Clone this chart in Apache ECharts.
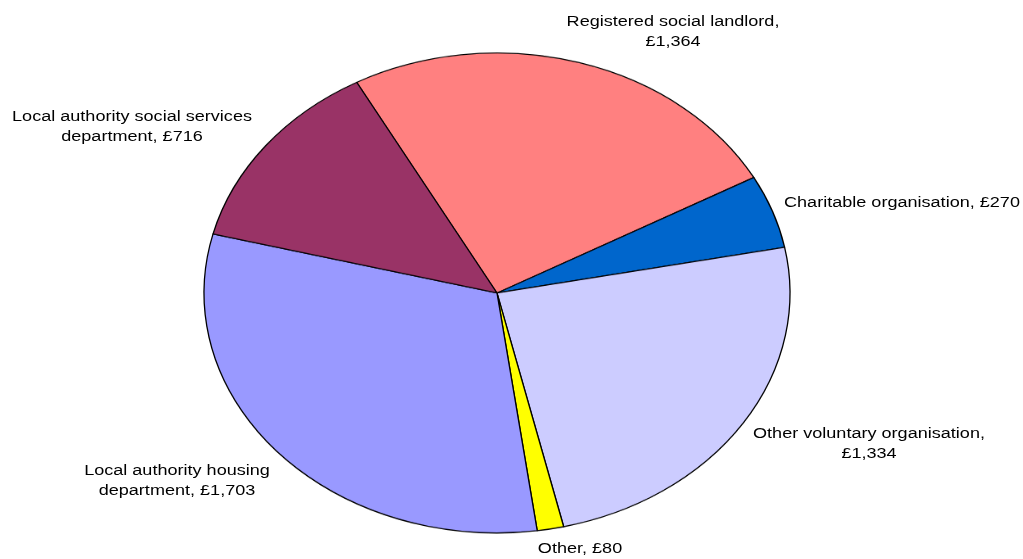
<!DOCTYPE html>
<html>
<head>
<meta charset="utf-8">
<script src="https://cdn.jsdelivr.net/npm/echarts@6/dist/echarts.min.js"></script>
<style>
  html, body { margin: 0; padding: 0; background: #fff; overflow: hidden; }
  #wrap { position: relative; width: 1023px; height: 559px; overflow: hidden; }
  /* The pie is drawn as a circle and squashed vertically into an ellipse */
  #pie { position: absolute; left: 0; top: 0; width: 1023px; height: 680px;
         transform-origin: 0 0; transform: scaleY(0.8191); }
  #labels { position: absolute; left: 0; top: 0; width: 1023px; height: 559px; }
</style>
</head>
<body>
<div id="wrap">
  <div id="pie"></div>
  <div id="labels"></div>
</div>
<script>
// Spending by organisation type (£)
const categories = [
  'Registered social landlord',
  'Charitable organisation',
  'Other voluntary organisation',
  'Other',
  'Local authority housing department',
  'Local authority social services department'
];
const values = [1364, 270, 1334, 80, 1703, 716];
const colors = ['#FF8080', '#0066CC', '#CCCCFF', '#FFFF00', '#9999FF', '#993366'];

// Label placement: anchor point, alignment and where the text wraps
const labelLayout = [
  { x: 673, y: 32,  align: 'center', wrap: 'comma' },
  { x: 784, y: 203, align: 'left',   wrap: 'none' },
  { x: 869, y: 444, align: 'center', wrap: 'comma' },
  { x: 580, y: 549, align: 'center', wrap: 'none' },
  { x: 177, y: 481, align: 'center', wrap: 'Local authority housing' },
  { x: 132, y: 127, align: 'center', wrap: 'Local authority social services' }
];

function money(v) {
  return '£' + v.toLocaleString('en-GB');
}
function labelText(i) {
  const name = categories[i], val = money(values[i]), w = labelLayout[i].wrap;
  if (w === 'none') return name + ', ' + val;
  if (w === 'comma') return name + ',\n' + val;
  return w + '\n' + name.slice(w.length + 1) + ', ' + val;
}

const pie = echarts.init(document.getElementById('pie'), null, { renderer: 'canvas' });
pie.setOption({
  animation: false,
  series: [{
    type: 'pie',
    center: [497, 357.7],
    radius: 293,
    startAngle: 118.6,
    clockwise: true,
    label: { show: false },
    labelLine: { show: false },
    emphasis: { disabled: true },
    itemStyle: { borderColor: '#000', borderWidth: 1.3 },
    data: categories.map((c, i) => ({ name: c, value: values[i], itemStyle: { color: colors[i] } }))
  }]
});

// Labels use a wide, horizontally stretched face
const labels = echarts.init(document.getElementById('labels'), null, { renderer: 'canvas' });
labels.setOption({
  animation: false,
  graphic: categories.map((c, i) => ({
    type: 'text',
    x: labelLayout[i].x,
    y: labelLayout[i].y,
    scaleX: 1.29,
    scaleY: 1,
    style: {
      text: labelText(i),
      fill: '#000',
      font: '14px "Liberation Sans", Arial, sans-serif',
      lineHeight: 20,
      align: labelLayout[i].align,
      verticalAlign: 'middle'
    }
  }))
});
</script>
</body>
</html>
